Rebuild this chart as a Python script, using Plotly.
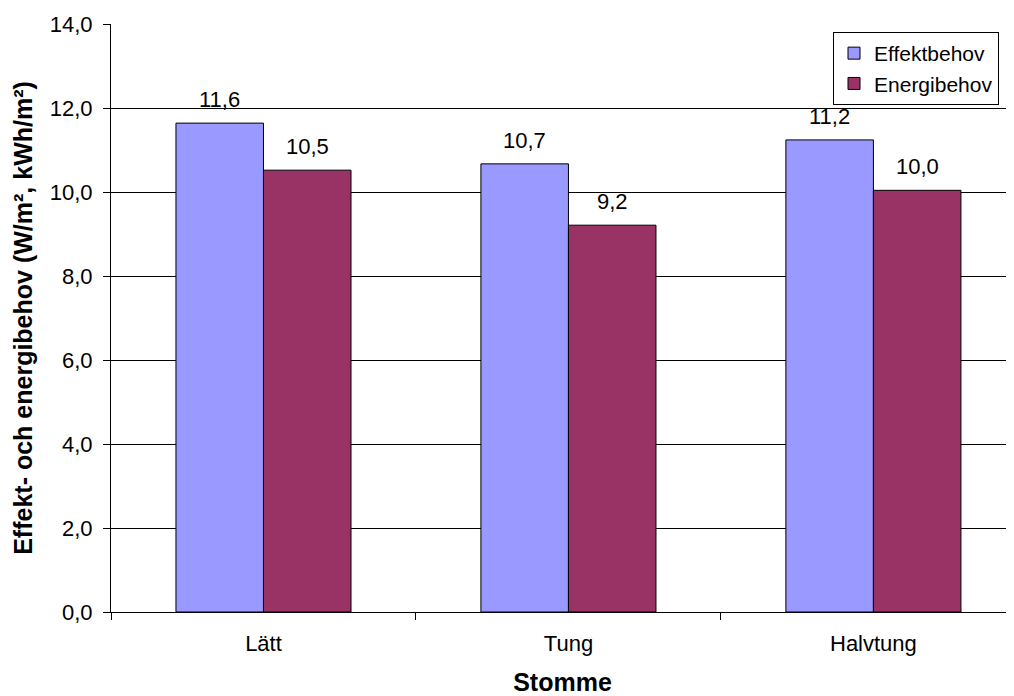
import plotly.graph_objects as go

categories = ["Lätt", "Tung", "Halvtung"]
effektbehov = [11.64, 10.67, 11.24]
energibehov = [10.52, 9.21, 10.04]
ytick_vals = [0, 2, 4, 6, 8, 10, 12, 14]
series = [("Effektbehov", effektbehov, "#9999FF"), ("Energibehov", energibehov, "#993366")]

font = "Liberation Sans, Arial, sans-serif"

fig = go.Figure()
for name, vals, col in series:
    fig.add_trace(go.Bar(
        name=name, x=categories, y=vals,
        marker=dict(color=col, line=dict(color="black", width=1)),
    ))

# data labels above bars (grouped bar offset: half a bar width in px)
half_bar_px = 43.75
for k, (name, vals, col) in enumerate(series):
    shift = -half_bar_px if k == 0 else half_bar_px
    for c, v in zip(categories, vals):
        fig.add_annotation(
            x=c, y=v, text=f"{v:.1f}".replace(".", ","),
            xshift=shift, yshift=9, yanchor="bottom", showarrow=False,
            font=dict(size=22, color="black", family=font),
        )

fig.update_layout(
    width=1014, height=696,
    margin=dict(l=103, r=8, t=16, b=92),
    paper_bgcolor="white", plot_bgcolor="white",
    separators=", ",
    font=dict(family=font, size=22, color="black"),
    barmode="group", bargap=0.426, bargroupgap=0,
    showlegend=True,
    legend=dict(
        x=0.9834, y=0.9864, xanchor="right", yanchor="top",
        bgcolor="white", bordercolor="black", borderwidth=1,
        font=dict(size=21, family=font), tracegroupgap=0,
        itemwidth=30,
    ),
    xaxis=dict(
        range=[-0.5, 2.461], type="category",
        showline=True, linecolor="black", linewidth=1,
        ticks="outside", tickson="boundaries", ticklen=7, tickcolor="black",
        ticklabelstandoff=12,
        tickfont=dict(size=22),
        title=dict(text="<b>Stomme</b>", font=dict(size=25), standoff=18),
        showgrid=False,
    ),
    yaxis=dict(
        range=[0, 14], tickvals=ytick_vals, tickformat=".1f",
        showline=True, linecolor="black", linewidth=1,
        ticks="outside", ticklen=7, tickcolor="black",
        ticklabelstandoff=6,
        showgrid=True, gridcolor="black", gridwidth=1,
        tickfont=dict(size=22),
        title=dict(text="<b>Effekt- och energibehov (W/m², kWh/m²)</b>", font=dict(size=25), standoff=10),
        automargin=False,
        zeroline=False,
    ),
)

fig.write_html("out.html")
